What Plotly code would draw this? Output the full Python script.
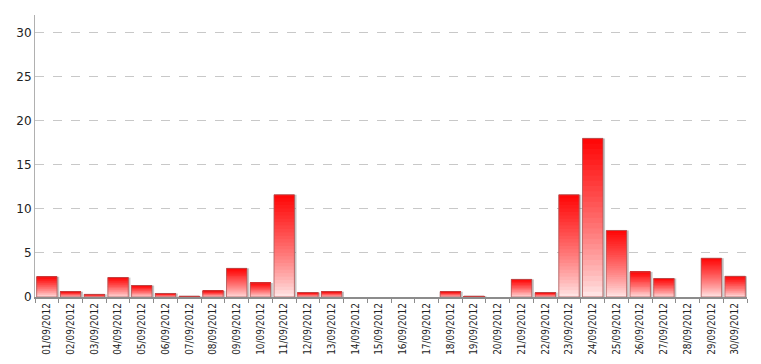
import plotly.graph_objects as go

dates = [f"{d:02d}/09/2012" for d in range(1, 31)]
values = [2.3, 0.6, 0.3, 2.2, 1.3, 0.4, 0.1, 0.7, 3.25, 1.6,
          11.6, 0.5, 0.6, 0.0, 0.0, 0.0, 0.0, 0.6, 0.1, 0.0,
          2.0, 0.5, 11.6, 18.0, 7.55, 2.85, 2.1, 0.0, 4.4, 2.35]
y_ticks = [0, 5, 10, 15, 20, 25, 30]

N_SEG = 30
TOP = (255, 5, 5)
BOTTOM = (255, 236, 236)
BAR_W = 0.86

nz = [v if v > 0 else None for v in values]

fig = go.Figure()

# shadow
fig.add_trace(go.Bar(
    x=dates, y=nz, width=BAR_W, offset=-BAR_W / 2 + 0.09,
    marker=dict(color="rgba(90,90,90,0.35)", line=dict(width=0)),
    hoverinfo="skip", showlegend=False))

# gradient segments (each overlaps the next one to avoid seams)
for i in range(N_SEG):
    t = (i + 0.5) / N_SEG  # 0 bottom -> 1 top
    t2 = t ** 0.8
    c = tuple(round(BOTTOM[k] + (TOP[k] - BOTTOM[k]) * t2) for k in range(3))
    hi = min(i + 2, N_SEG)
    fig.add_trace(go.Bar(
        x=dates,
        y=[(v * (hi - i) / N_SEG) if v > 0 else None for v in values],
        base=[v * i / N_SEG for v in values],
        width=BAR_W,
        marker=dict(color=f"rgb{c}", line=dict(width=0)),
        hoverinfo="skip", showlegend=False))

# outline
fig.add_trace(go.Bar(
    x=dates, y=nz, width=BAR_W,
    marker=dict(color="rgba(0,0,0,0)", line=dict(color="rgba(170,90,90,0.8)", width=1)),
    showlegend=False))

fig.update_layout(
    barmode="overlay",
    width=761, height=364,
    margin=dict(l=35, r=14, t=15, b=67),
    paper_bgcolor="white", plot_bgcolor="white",
    font=dict(family="Liberation Sans", size=11, color="#222"),
    xaxis=dict(
        type="category", tickangle=-90, automargin=False,
        showline=True, linecolor="#8c8c8c", linewidth=2,
        ticks="outside", tickson="boundaries", ticklen=4, tickcolor="#8c8c8c",
        showgrid=False, tickfont=dict(family="DejaVu Sans Condensed", size=10, color="#222"),
        range=[-0.5, 29.5]),
    yaxis=dict(
        range=[0, 32], tickvals=y_ticks, automargin=False,
        showline=True, linecolor="#b0b0b0", linewidth=1,
        showgrid=True, gridcolor="#c8c8c8", griddash="dash", gridwidth=1,
        zeroline=False, ticks="", tickfont=dict(family="DejaVu Sans", size=12, color="#222")),
)

fig.write_html("out.html")
